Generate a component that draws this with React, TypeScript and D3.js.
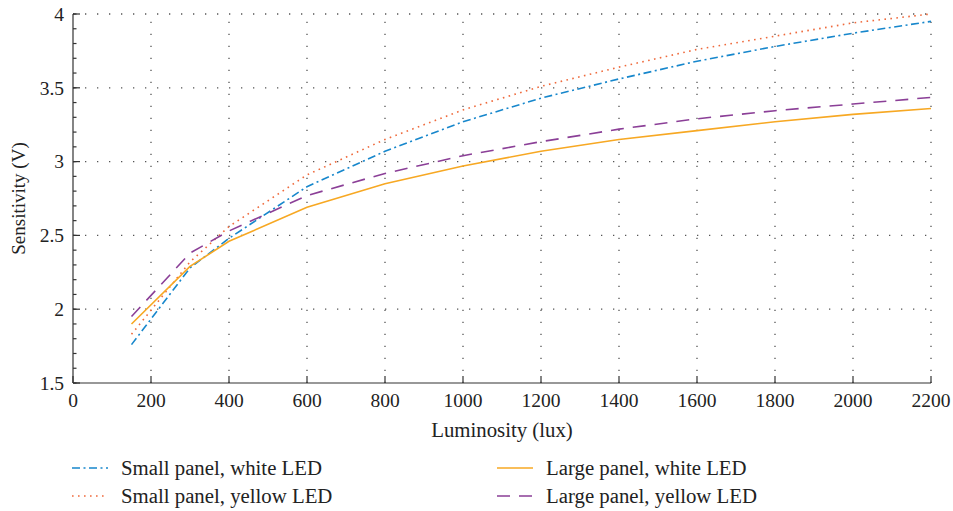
import React from "react";
import * as d3 from "d3";

const luxValues = [150, 300, 400, 600, 800, 1000, 1200, 1400, 1600, 1800, 2000, 2200];
const smallWhite = [1.76, 2.28, 2.48, 2.83, 3.07, 3.27, 3.43, 3.56, 3.68, 3.78, 3.87, 3.95];
const smallYellow = [1.83, 2.32, 2.56, 2.91, 3.15, 3.35, 3.51, 3.64, 3.76, 3.85, 3.94, 4.0];
const largeWhite = [1.9, 2.29, 2.46, 2.69, 2.85, 2.97, 3.07, 3.15, 3.21, 3.27, 3.32, 3.36];
const largeYellow = [1.95, 2.38, 2.53, 2.77, 2.92, 3.04, 3.135, 3.22, 3.29, 3.345, 3.39, 3.435];

const xTicks = [0, 200, 400, 600, 800, 1000, 1200, 1400, 1600, 1800, 2000, 2200];
const yTicks = [1.5, 2, 2.5, 3, 3.5, 4];

const series = [
  { name: "Small panel, white LED", values: smallWhite, color: "#1787cc", dash: "8,3.5,2,3.5" },
  { name: "Small panel, yellow LED", values: smallYellow, color: "#ef6a3c", dash: "1.6,4.4" },
  { name: "Large panel, white LED", values: largeWhite, color: "#f7a823", dash: "" },
  { name: "Large panel, yellow LED", values: largeYellow, color: "#8b3f97", dash: "13,9" },
];

const width = 953;
const height = 511;
const marginLeft = 73;
const marginRight = 22;
const marginTop = 14;
const marginBottom = 128;
const font = "Liberation Serif, Times New Roman, DejaVu Serif, serif";

export default function App() {
  const x = d3.scaleLinear().domain([0, 2200]).range([marginLeft, width - marginRight]);
  const y = d3.scaleLinear().domain([1.5, 4]).range([height - marginBottom, marginTop]);

  const line = d3
    .line<number>()
    .x((d, i) => x(luxValues[i]))
    .y((d) => y(d));

  const minorY = d3.range(1.5, 4.0001, 0.1);
  const x0 = x(0);
  const x1 = x(2200);
  const y0 = y(1.5);
  const y1 = y(4);

  // legend layout: two columns, series 0,1 left and 2,3 right
  const legendPos = [
    { lx: 72, ly: 468 },
    { lx: 72, ly: 496 },
    { lx: 497, ly: 468 },
    { lx: 497, ly: 496 },
  ];

  return (
    <svg width={width} height={height} style={{ position: "absolute", left: 0, top: 0 }}>
      <rect width={width} height={height} fill="#fff" />

      {/* grid */}
      <g stroke="#555" strokeWidth={1.3} strokeDasharray="1.3,10.7">
        {yTicks.slice(1).map((t) => (
          <line key={"gy" + t} x1={x0} x2={x1} y1={y(t)} y2={y(t)} />
        ))}
        {xTicks.slice(1).map((t) => (
          <line key={"gx" + t} x1={x(t)} x2={x(t)} y1={y0} y2={y1} />
        ))}
      </g>

      {/* data lines */}
      {series.map((s) => (
        <path
          key={s.name}
          d={line(s.values) ?? ""}
          fill="none"
          stroke={s.color}
          strokeWidth={1.6}
          strokeDasharray={s.dash || undefined}
        />
      ))}

      {/* axes */}
      <g stroke="#333" strokeWidth={1.2}>
        <line x1={x0} x2={x0} y1={y0} y2={y1} />
        <line x1={x0} x2={x1} y1={y0} y2={y0} />
        {yTicks.map((t) => (
          <line key={"ty" + t} x1={x0} x2={x0 + 7} y1={y(t)} y2={y(t)} />
        ))}
        {minorY.map((t, i) => (
          <line key={"my" + i} x1={x0} x2={x0 + 3.5} y1={y(t)} y2={y(t)} />
        ))}
        {xTicks.map((t) => (
          <line key={"tx" + t} x1={x(t)} x2={x(t)} y1={y0} y2={y0 - 7} />
        ))}
      </g>

      {/* tick labels */}
      <g fontFamily={font} fontSize={19.5} fill="#222">
        {yTicks.map((t) => (
          <text key={"ly" + t} x={x0 - 9} y={y(t)} dy="0.35em" textAnchor="end">
            {t}
          </text>
        ))}
        {xTicks.map((t) => (
          <text key={"lx" + t} x={x(t)} y={y0 + 24} textAnchor="middle">
            {t}
          </text>
        ))}
      </g>

      {/* axis titles */}
      <text x={(x0 + x1) / 2} y={437} textAnchor="middle" fontFamily={font} fontSize={20.8} fill="#222">
        Luminosity (lux)
      </text>
      <text
        transform={`translate(25,${(y0 + y1) / 2}) rotate(-90)`}
        textAnchor="middle"
        fontFamily={font}
        fontSize={19}
        fill="#222"
      >
        Sensitivity (V)
      </text>

      {/* legend */}
      {series.map((s, i) => {
        const p = legendPos[i];
        return (
          <g key={"lg" + s.name}>
            <line
              x1={p.lx}
              x2={p.lx + 36}
              y1={p.ly}
              y2={p.ly}
              stroke={s.color}
              strokeWidth={1.6}
              strokeDasharray={s.dash || undefined}
            />
            <text x={p.lx + 49} y={p.ly} dy="0.35em" fontFamily={font} fontSize={20.8} fill="#222">
              {s.name}
            </text>
          </g>
        );
      })}
    </svg>
  );
}
